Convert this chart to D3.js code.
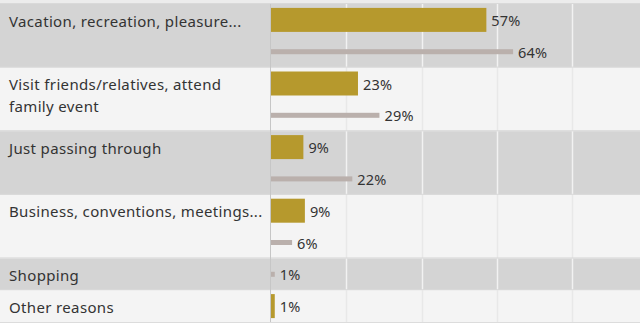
<!DOCTYPE html>
<html>
<head>
<meta charset="utf-8">
<script src="https://cdn.jsdelivr.net/npm/d3@7"></script>
<style>
  body { margin: 0; background: #f4f4f4; }
  svg { display: block; }
  text { font-family: "Noto Sans", Lato, sans-serif; fill: #333; }
</style>
</head>
<body>
<svg></svg>
<script>
// trip purposes, two series per row (gold = current, gray = comparison)
const categories = [
  ["Vacation, recreation, pleasure..."],
  ["Visit friends/relatives, attend", "family event"],
  ["Just passing through"],
  ["Business, conventions, meetings..."],
  ["Shopping"],
  ["Other reasons"]
];
const goldValues = [57.2, 23.1, 8.6, 9.0, null, 1.0];
const grayValues = [64.3, 28.8, 21.6, 5.6, 1.0, null];
const gridTicks = [20, 40, 60, 80];

let width = 640, height = 323, plotTop = 4, plotBottom = 322, labelW = 270,
    svg = d3.select("svg").attr("width", width).attr("height", height);

// one sub-row per bar that exists
let subRows = [];
categories.forEach((c, i) => {
  if (goldValues[i] != null) subRows.push({cat: i, key: i + "-g", kind: "gold", value: goldValues[i]});
  if (grayValues[i] != null) subRows.push({cat: i, key: i + "-r", kind: "gray", value: grayValues[i]});
});

let yBand = d3.scaleBand().domain(subRows.map(d => d.key)).range([plotTop, plotBottom]).padding(0),
    xScale = d3.scaleLinear().domain([0, 100]).range([labelW + 1, labelW + 1 + 376.5]);

let rows = categories.map((lines, i) => {
  let subs = subRows.filter(d => d.cat === i);
  return {i, lines, y0: yBand(subs[0].key), y1: yBand(subs[subs.length - 1].key) + yBand.bandwidth()};
});

// top strip
svg.append("rect").attr("x", 0).attr("y", 0).attr("width", width).attr("height", plotTop).attr("fill", "#ececec");

let rowG = svg.selectAll(".row").data(rows).enter().append("g").classed("row", true);

rowG.append("rect")
  .attr("x", 0).attr("y", d => d.y0)
  .attr("width", width).attr("height", d => d.y1 - d.y0)
  .attr("fill", d => d.i % 2 === 0 ? "#d4d4d4" : "#f4f4f4");

// gridlines per row
rowG.each(function(r) {
  d3.select(this).selectAll("line.grid").data(gridTicks).enter().append("line")
    .attr("x1", d => Math.round(xScale(d)) + 0.5).attr("x2", d => Math.round(xScale(d)) + 0.5)
    .attr("y1", r.y0).attr("y2", r.y1)
    .attr("stroke", r.i % 2 === 0 ? "#f2f2f2" : "#e8e8e8")
    .attr("stroke-width", 1.5);
});

// row separators
rowG.append("line")
  .attr("x1", 0).attr("x2", width)
  .attr("y1", d => d.y0 - 0.5).attr("y2", d => d.y0 - 0.5)
  .attr("stroke", "#d9d9d9");
svg.append("line").attr("x1", 0).attr("x2", width).attr("y1", plotBottom + 0.5).attr("y2", plotBottom + 0.5).attr("stroke", "#dcdcdc");

// category labels
rowG.append("text")
  .attr("x", 9)
  .attr("y", d => d.y0 + 22.5)
  .style("font-size", "15px")
  .style("letter-spacing", "0.35px")
  .selectAll("tspan").data(d => d.lines).enter().append("tspan")
  .attr("x", 9).attr("dy", (d, j) => j === 0 ? 0 : 21.5)
  .text(d => d);

// divider between label column and bars
svg.append("line")
  .attr("x1", labelW + 0.5).attr("x2", labelW + 0.5)
  .attr("y1", plotTop).attr("y2", plotBottom)
  .attr("stroke", "#c6c6c6");

// bars
let bars = svg.selectAll(".bar").data(subRows).enter().append("g").classed("bar", true);

bars.append("rect")
  .attr("x", xScale(0))
  .attr("y", d => yBand(d.key) + yBand.bandwidth() / 2 - (d.kind === "gold" ? 12 : 2.5))
  .attr("width", d => xScale(d.value) - xScale(0))
  .attr("height", d => d.kind === "gold" ? 24 : 5)
  .attr("fill", d => d.kind === "gold" ? "#b6992d" : "#bab0ac");

bars.append("text")
  .attr("x", d => xScale(d.value) + 5)
  .attr("y", d => yBand(d.key) + yBand.bandwidth() / 2)
  .attr("dominant-baseline", "central")
  .style("font-size", "14.5px")
  .style("letter-spacing", "0.2px")
  .text(d => Math.round(d.value) + "%");
</script>
</body>
</html>
